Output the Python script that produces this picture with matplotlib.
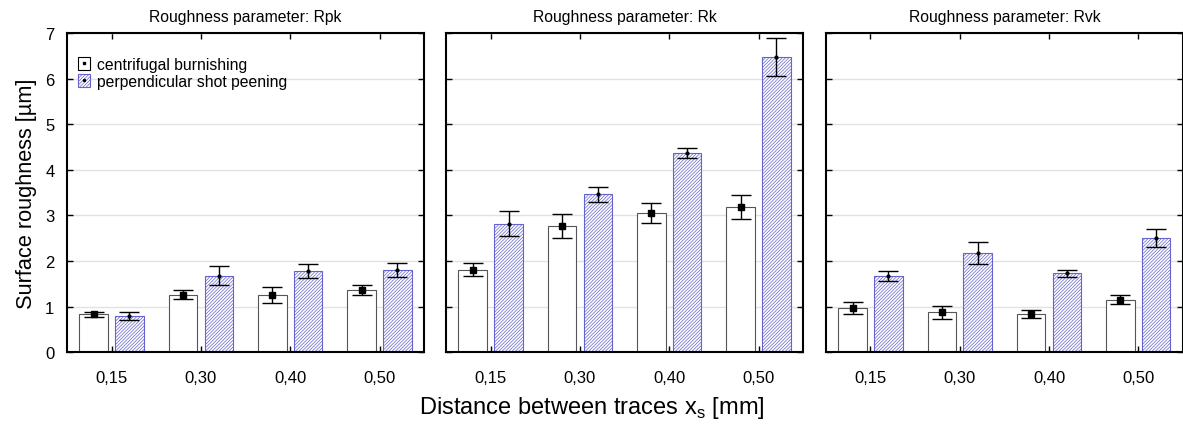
import numpy as np
import matplotlib
matplotlib.use("Agg")
from matplotlib import pyplot as plt
from matplotlib.patches import Patch
from matplotlib.lines import Line2D

plt.rcParams['font.family'] = ['Liberation Sans', 'DejaVu Sans']
plt.rcParams['hatch.linewidth'] = 0.5

distances = ['0,15', '0,30', '0,40', '0,50']
params = ['Rpk', 'Rk', 'Rvk']

# centrifugal burnishing: means and half error ranges
cb_mean = {'Rpk': [0.83, 1.26, 1.26, 1.36],
           'Rk': [1.81, 2.77, 3.06, 3.19],
           'Rvk': [0.97, 0.87, 0.84, 1.15]}
cb_err = {'Rpk': [0.055, 0.105, 0.175, 0.115],
          'Rk': [0.15, 0.27, 0.22, 0.26],
          'Rvk': [0.125, 0.135, 0.095, 0.10]}
# perpendicular shot peening
sp_mean = {'Rpk': [0.80, 1.68, 1.78, 1.80],
           'Rk': [2.82, 3.46, 4.37, 6.48],
           'Rvk': [1.67, 2.17, 1.73, 2.51]}
sp_err = {'Rpk': [0.09, 0.20, 0.155, 0.155],
          'Rk': [0.27, 0.155, 0.11, 0.415],
          'Rvk': [0.115, 0.24, 0.08, 0.20]}

hatch_col = '#6464cc'
fig = plt.figure(figsize=(11.83, 4.27), dpi=100)
lefts = [0.0566, 0.377, 0.698]
width = 0.302
bottom, top = 0.173, 0.920

x = np.arange(len(distances))
bw = 0.32
axes = []
for i, p in enumerate(params):
    ax = fig.add_axes([lefts[i], bottom, width, top - bottom])
    axes.append(ax)
    ax.bar(x - 0.2, cb_mean[p], bw, color='white', edgecolor='#555555', linewidth=0.8, zorder=2)
    ax.bar(x + 0.2, sp_mean[p], bw, color='white', edgecolor=hatch_col, hatch='//////////',
           linewidth=0.8, zorder=2)
    ax.errorbar(x - 0.2, cb_mean[p], yerr=cb_err[p], fmt='s', color='black', ms=4.5,
                capsize=7, elinewidth=1, capthick=1, zorder=3)
    ax.errorbar(x + 0.2, sp_mean[p], yerr=sp_err[p], fmt='o', color='black', ms=2,
                capsize=7, elinewidth=1, capthick=1, zorder=3)
    ax.set_xlim(-0.5, 3.5)
    ax.set_ylim(0, 7)
    ax.set_xticks(x)
    ax.set_xticklabels(distances)
    ax.set_yticks(range(8))
    ax.grid(axis='y', color='#e2e2e2', linewidth=1, zorder=0)
    ax.set_axisbelow(True)
    ax.tick_params(direction='in', top=True, right=True, length=4, width=1, labelsize=12)
    ax.tick_params(axis='x', pad=13)
    ax.tick_params(axis='y', pad=9)
    for s in ax.spines.values():
        s.set_linewidth(1.5)
    ax.set_title('Roughness parameter: ' + p, fontsize=11.3, pad=9)
    if i > 0:
        ax.set_yticklabels([])

axes[0].set_ylabel('Surface roughness [µm]', fontsize=15.7, labelpad=6)

h1 = (Patch(facecolor='white', edgecolor='black', linewidth=0.8),
      Line2D([], [], marker='s', color='black', ms=2, linestyle='none'))
h2 = (Patch(facecolor='white', edgecolor=hatch_col, hatch='//////////', linewidth=0.8),
      Line2D([], [], marker='o', color='black', ms=1.5, linestyle='none'))
axes[0].legend([h1, h2], ['centrifugal burnishing', 'perpendicular shot peening'],
               loc='upper left', bbox_to_anchor=(0.0, 0.96), frameon=False, fontsize=11.3,
               handlelength=0.8, handleheight=0.9, handletextpad=0.4, labelspacing=0.15,
               borderaxespad=0.3)

fig.text(0.5, 0.03, 'Distance between traces x$_\\mathregular{s}$ [mm]', ha='center', fontsize=17)

fig.savefig('out.png', dpi=100)
